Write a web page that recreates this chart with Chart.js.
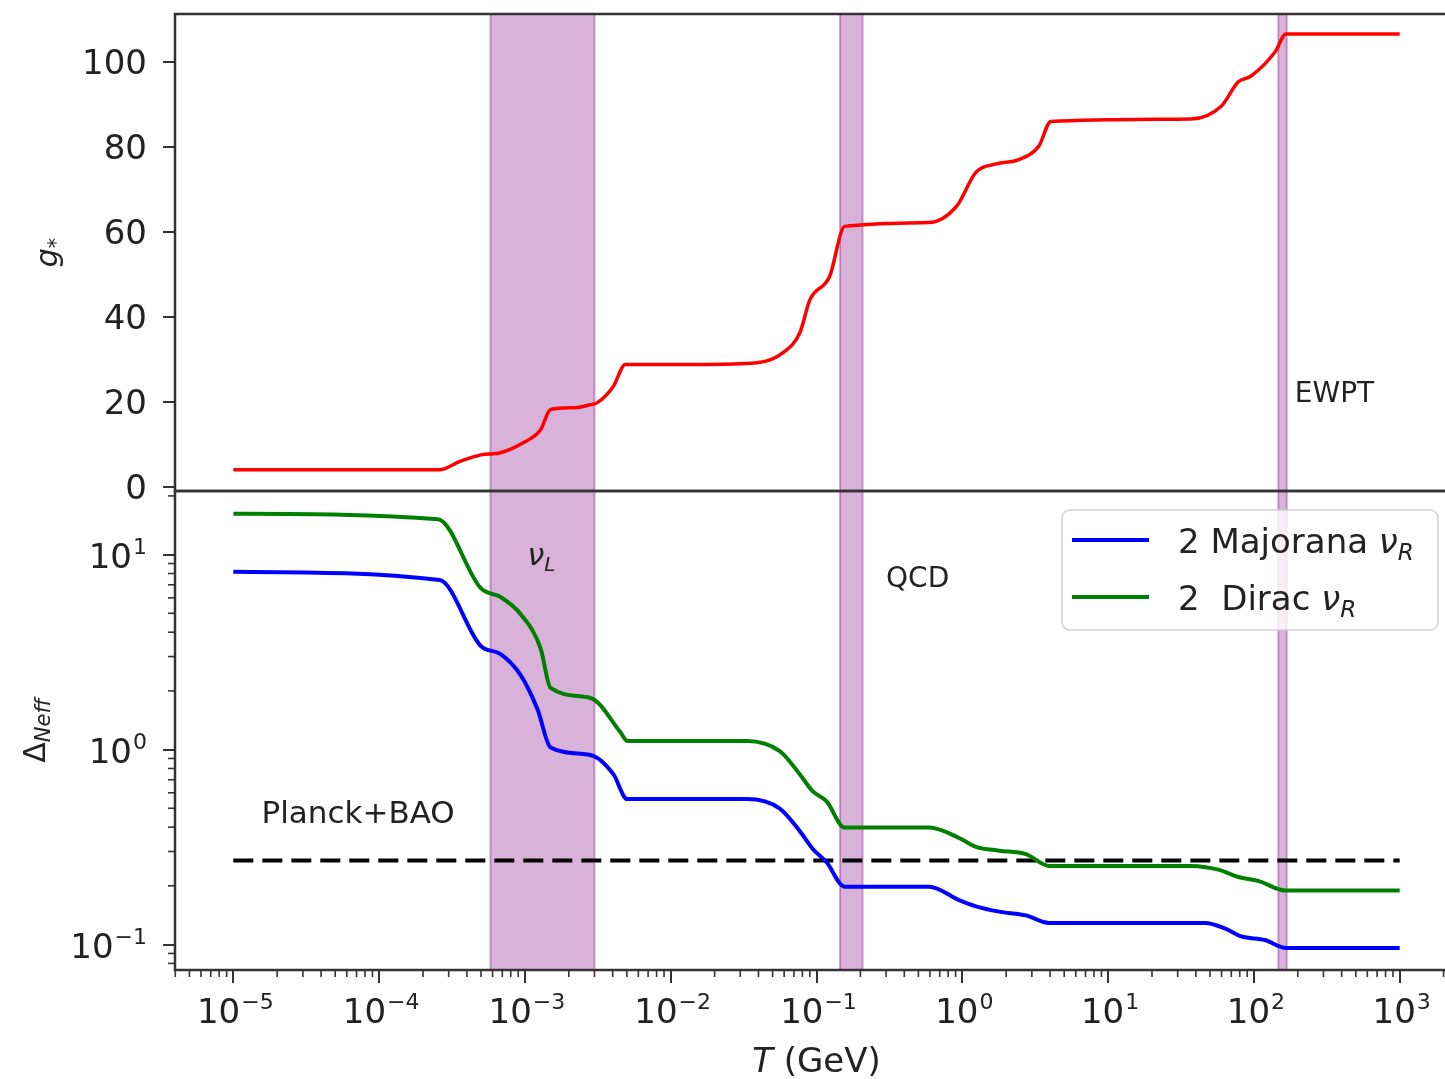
<!DOCTYPE html>
<html>
<head>
<meta charset="utf-8">
<script src="https://cdn.jsdelivr.net/npm/chart.js@4.4.1/dist/chart.umd.min.js"></script>
<style>
  html, body { margin: 0; padding: 0; background: #fff; overflow: hidden; width: 1445px; height: 1079px; }
  #wrap { position: relative; width: 1445px; height: 1079px; overflow: hidden; }
  canvas { position: absolute; left: 0; }
  #gstar { top: 0; }
  #neff { top: 470px; }
</style>
</head>
<body>
<div id="wrap">
  <canvas id="gstar" width="1460" height="520"></canvas>
  <canvas id="neff" width="1460" height="609"></canvas>
</div>
<script>
// g* (top panel)
const tG = [1e-5, 2.6e-4, 3.6e-4, 5.0e-4, 6.8e-4, 9.8e-4, 1.28e-3, 1.5e-3, 2.2e-3, 2.8e-3, 3.14e-3, 4.04e-3, 4.88e-3,
  1.58e-2, 3.9e-2, 5.9e-2, 7.7e-2, 9.0e-2, 0.123, 0.156, 0.593, 0.912, 1.24, 1.71, 2.44, 3.35, 4.05,
  37.2, 59.7, 78, 95.7, 140, 166, 1000];
const gStar = [4.0, 4.0, 6.0, 7.5, 8.0, 10.4, 13.4, 18.2, 18.6, 19.3, 19.8, 23.6, 28.8,
  28.8, 29.2, 31.6, 36.3, 44, 49.5, 61.3, 62.2, 66, 74, 76, 77, 80.2, 86,
  86.6, 89.6, 95.3, 96.7, 102.4, 106.6, 106.6];

// Delta N_eff (bottom panel)
const tMaj = [1e-5, 2.6e-4, 4.98e-4, 6.82e-4, 9.35e-4, 1.22e-3, 1.5e-3, 2.81e-3, 4.04e-3, 5.03e-3,
  3.33e-2, 5.6e-2, 7.67e-2, 9.4e-2, 0.117, 0.156, 0.593, 0.95, 1.24, 1.79, 2.73, 3.93,
  46.5, 63.7, 81.9, 119, 166, 1000];
const majorana = [8.16, 7.40, 3.40, 3.09, 2.41, 1.61, 1.026, 0.938, 0.748, 0.557,
  0.557, 0.498, 0.382, 0.310, 0.265, 0.198, 0.198, 0.169, 0.157, 0.1475, 0.141, 0.129,
  0.129, 0.1205, 0.110, 0.1055, 0.096, 0.096];

const tDir = [1e-5, 2.53e-4, 4.98e-4, 6.82e-4, 9.35e-4, 1.28e-3, 1.5e-3, 2.81e-3, 4.51e-3, 5.03e-3,
  3.33e-2, 5.6e-2, 7.67e-2, 9.4e-2, 0.117, 0.156, 0.593, 0.95, 1.24, 1.79, 2.73, 3.93,
  37.3, 57, 78.2, 107, 166, 1000];
const dirac = [16.2, 15.2, 6.73, 6.05, 4.95, 3.31, 2.07, 1.84, 1.23, 1.107,
  1.107, 0.982, 0.748, 0.612, 0.544, 0.398, 0.398, 0.352, 0.317, 0.303, 0.291, 0.253,
  0.253, 0.242, 0.222, 0.212, 0.189, 0.189];

const planckT = [1e-5, 1e3];
const planckLevel = 0.27;

// shaded transitions: nu_L decoupling, QCD, EWPT
const bandLo = [5.8e-4, 0.145, 147];
const bandHi = [3.0e-3, 0.207, 168];

// ticks
const xExp = [-5, -4, -3, -2, -1, 0, 1, 2, 3];
const gTicks = [0, 20, 40, 60, 80, 100];
const nExp = [-1, 0, 1];

const xMin = Math.pow(10, -5.4), xMax = Math.pow(10, 3.4);
const FAM = '"DejaVu Sans"';
const INK = '#222';
const SPINE = '#333';

Chart.defaults.font.family = FAM;

const pts = (xs, ys) => xs.map((x, i) => ({ x: x, y: ys[i] }));

// draw text pieces one after another (for subscripts / superscripts)
function rich(ctx, parts, x, y, align) {
  let w = 0;
  parts.forEach(p => { ctx.font = p.f; p.w = ctx.measureText(p.t).width; w += p.w + (p.gap || 0); });
  let cx = align === 'center' ? x - w / 2 : (align === 'right' ? x - w : x);
  ctx.textAlign = 'left';
  ctx.textBaseline = 'alphabetic';
  parts.forEach(p => {
    ctx.font = p.f;
    ctx.fillText(p.t, cx, y + (p.dy || 0));
    cx += p.w + (p.gap || 0);
  });
}

function pow10(e, size) {
  return [
    { t: '10', f: size + 'px ' + FAM, gap: 1 },
    { t: e < 0 ? '\u2212' + (-e) : String(e), f: Math.round(size * 0.66) + 'px ' + FAM, dy: -size * 0.4 }
  ];
}

const bands = {
  id: 'bands',
  beforeDatasetsDraw(chart) {
    const { ctx, chartArea: a } = chart;
    const xs = chart.scales.x;
    ctx.save();
    ctx.fillStyle = 'rgba(128,0,128,0.3)';
    ctx.strokeStyle = 'rgba(128,0,128,0.35)';
    ctx.lineWidth = 2;
    bandLo.forEach((lo, i) => {
      const x1 = xs.getPixelForValue(lo), x2 = xs.getPixelForValue(bandHi[i]);
      ctx.fillRect(x1, a.top, x2 - x1, a.bottom - a.top);
      ctx.strokeRect(x1, a.top, x2 - x1, a.bottom - a.top);
    });
    ctx.restore();
  }
};

const frame = {
  id: 'frame',
  afterDraw(chart) {
    const { ctx, chartArea: a } = chart;
    ctx.save();
    ctx.strokeStyle = SPINE;
    ctx.lineWidth = 2.5;
    ctx.strokeRect(a.left, a.top, a.right - a.left, a.bottom - a.top);
    ctx.restore();
  }
};

// minor log ticks (2..9 x 10^n)
function minorTicks(axes) {
  return {
    id: 'minorTicks',
    afterDraw(chart) {
      const { ctx, chartArea: a } = chart;
      ctx.save();
      ctx.strokeStyle = SPINE;
      ctx.lineWidth = 1.6;
      axes.forEach(id => {
        const s = chart.scales[id];
        for (let e = -7; e <= 4; e++) {
          for (let m = 2; m <= 9; m++) {
            const v = m * Math.pow(10, e);
            if (v < s.min || v > s.max) continue;
            const p = s.getPixelForValue(v);
            ctx.beginPath();
            if (id === 'x') { ctx.moveTo(p, a.bottom); ctx.lineTo(p, a.bottom + 7); }
            else { ctx.moveTo(a.left, p); ctx.lineTo(a.left - 7, p); }
            ctx.stroke();
          }
        }
      });
      ctx.restore();
    }
  };
}

const topTexts = {
  id: 'topTexts',
  afterDraw(chart) {
    const { ctx, chartArea: a, scales } = chart;
    ctx.save();
    ctx.fillStyle = INK;
    gTicks.forEach(v => rich(ctx, [{ t: String(v), f: '34px ' + FAM }], a.left - 28, scales.y.getPixelForValue(v) + 12, 'right'));
    // y label g_*
    ctx.save();
    ctx.translate(57, (a.top + a.bottom) / 2);
    ctx.rotate(-Math.PI / 2);
    rich(ctx, [{ t: 'g', f: 'italic 30px ' + FAM }, { t: '*', f: '21px ' + FAM, dy: 6 }], 0, 0, 'center');
    ctx.restore();
    rich(ctx, [{ t: 'EWPT', f: '28px ' + FAM }], scales.x.getPixelForValue(191), scales.y.getPixelForValue(20), 'left');
    ctx.restore();
  }
};

const bottomTexts = {
  id: 'bottomTexts',
  afterDraw(chart) {
    const { ctx, chartArea: a, scales } = chart;
    const xs = scales.x, ys = scales.y;
    ctx.save();
    ctx.fillStyle = INK;
    // tick labels
    xExp.forEach(e => rich(ctx, pow10(e, 34), xs.getPixelForValue(Math.pow(10, e)) + 2, a.bottom + 53, 'center'));
    nExp.forEach(e => rich(ctx, pow10(e, 34), a.left - 28, ys.getPixelForValue(Math.pow(10, e)) + 13, 'right'));
    // axis titles
    rich(ctx, [{ t: 'T', f: 'italic 34px ' + FAM }, { t: ' (GeV)', f: '34px ' + FAM }], (a.left + a.right) / 2, a.bottom + 102, 'center');
    ctx.save();
    ctx.translate(45, (a.top + a.bottom) / 2);
    ctx.rotate(-Math.PI / 2);
    rich(ctx, [{ t: '\u0394', f: '30px ' + FAM }, { t: 'Neff', f: 'italic 21px ' + FAM, dy: 5 }], 0, 0, 'center');
    ctx.restore();
    // annotations
    rich(ctx, [{ t: '\u03bd', f: 'italic 30px ' + FAM }, { t: 'L', f: 'italic 20px ' + FAM, dy: 6 }],
      xs.getPixelForValue(1.04e-3), ys.getPixelForValue(8.8), 'left');
    rich(ctx, [{ t: 'QCD', f: '28px ' + FAM }], xs.getPixelForValue(0.3), ys.getPixelForValue(6.8), 'left');
    rich(ctx, [{ t: 'Planck+BAO', f: '31px ' + FAM }], xs.getPixelForValue(1.56e-5), ys.getPixelForValue(0.42), 'left');

    // legend
    const bx = 1062, by = a.top + 19, bw = 376, bh = 120, r = 8;
    ctx.beginPath();
    ctx.moveTo(bx + r, by);
    ctx.arcTo(bx + bw, by, bx + bw, by + bh, r);
    ctx.arcTo(bx + bw, by + bh, bx, by + bh, r);
    ctx.arcTo(bx, by + bh, bx, by, r);
    ctx.arcTo(bx, by, bx + bw, by, r);
    ctx.closePath();
    ctx.fillStyle = 'rgba(255,255,255,0.8)';
    ctx.fill();
    ctx.strokeStyle = '#d0d0d0';
    ctx.lineWidth = 1.5;
    ctx.stroke();
    const rows = [
      { ds: 0, text: '2 Majorana ', y: by + 30 },
      { ds: 1, text: '2  Dirac ', y: by + 87 }
    ];
    rows.forEach(row => {
      ctx.strokeStyle = chart.data.datasets[row.ds].borderColor;
      ctx.lineWidth = 4;
      ctx.beginPath();
      ctx.moveTo(1072, row.y);
      ctx.lineTo(1149, row.y);
      ctx.stroke();
      ctx.fillStyle = INK;
      rich(ctx, [
        { t: row.text, f: '34px ' + FAM },
        { t: '\u03bd', f: 'italic 34px ' + FAM },
        { t: 'R', f: 'italic 23px ' + FAM, dy: 7 }
      ], 1178, row.y + 13, 'left');
    });
    ctx.restore();
  }
};

new Chart(document.getElementById('gstar'), {
  type: 'line',
  data: {
    datasets: [{
      label: 'g*',
      data: pts(tG, gStar),
      borderColor: '#ff0000',
      borderWidth: 3.5,
      pointRadius: 0,
      cubicInterpolationMode: 'monotone',
      fill: false
    }]
  },
  options: {
    responsive: false, animation: false, events: [],
    layout: { padding: { top: 14, bottom: 29, left: 0, right: 2 } },
    plugins: { legend: { display: false }, tooltip: { enabled: false } },
    scales: {
      x: { type: 'logarithmic', min: xMin, max: xMax, display: false },
      y: {
        type: 'linear', min: -1, max: 111.3,
        afterBuildTicks: s => { s.ticks = gTicks.map(v => ({ value: v })); },
        afterFit: s => { s.width = 175; },
        border: { display: false },
        grid: { drawOnChartArea: false, color: SPINE, lineWidth: 2, tickLength: 12 },
        ticks: { display: false }
      }
    }
  },
  plugins: [bands, frame, topTexts]
});

new Chart(document.getElementById('neff'), {
  type: 'line',
  data: {
    datasets: [
      {
        label: '2 Majorana \u03bdR',
        data: pts(tMaj, majorana),
        borderColor: '#0000ff', borderWidth: 4, pointRadius: 0,
        cubicInterpolationMode: 'monotone', fill: false
      },
      {
        label: '2  Dirac \u03bdR',
        data: pts(tDir, dirac),
        borderColor: '#008000', borderWidth: 4, pointRadius: 0,
        cubicInterpolationMode: 'monotone', fill: false
      },
      {
        label: 'Planck+BAO',
        data: planckT.map(t => ({ x: t, y: planckLevel })),
        borderColor: '#000000', borderWidth: 4, borderDash: [20, 9], pointRadius: 0, fill: false
      }
    ]
  },
  options: {
    responsive: false, animation: false, events: [],
    layout: { padding: { top: 21, bottom: 0, left: 0, right: 2 } },
    plugins: { legend: { display: false }, tooltip: { enabled: false } },
    scales: {
      x: {
        type: 'logarithmic', min: xMin, max: xMax,
        afterBuildTicks: s => { s.ticks = xExp.map(e => ({ value: Math.pow(10, e) })); },
        afterFit: s => { s.height = 109; },
        border: { display: false },
        grid: { drawOnChartArea: false, color: SPINE, lineWidth: 2, tickLength: 13 },
        ticks: { display: false }
      },
      y: {
        type: 'logarithmic', min: 0.074, max: 21.2,
        afterBuildTicks: s => { s.ticks = nExp.map(e => ({ value: Math.pow(10, e) })); },
        afterFit: s => { s.width = 175; },
        border: { display: false },
        grid: { drawOnChartArea: false, color: SPINE, lineWidth: 2, tickLength: 12 },
        ticks: { display: false }
      }
    }
  },
  plugins: [bands, frame, minorTicks(['x', 'y']), bottomTexts]
});
</script>
</body>
</html>
